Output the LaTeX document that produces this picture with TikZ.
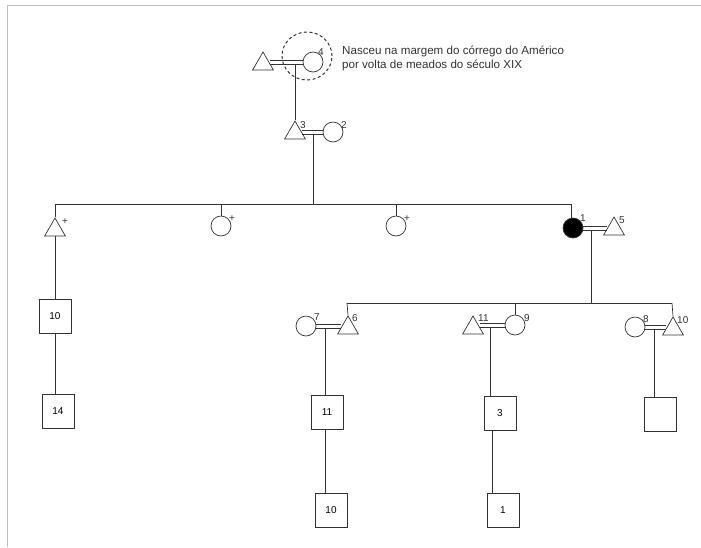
\documentclass[tikz,border=0pt]{standalone}
\usepackage{fontspec}
\setmainfont{Liberation Sans}
\usetikzlibrary{shapes.geometric,calc}
\definecolor{ink}{HTML}{333333}
\tikzset{
  ln/.style={draw=ink, line width=0.7pt},
  dl/.style={draw=ink, line width=0.6pt},
  tri/.style={regular polygon, regular polygon sides=3, draw=ink, line width=0.7pt, minimum size=24pt, inner sep=0pt},
  circ/.style={circle, draw=ink, line width=0.7pt, minimum size=20pt, inner sep=0pt},
  fcirc/.style={circ, fill=black},
  box/.style={rectangle, draw=ink, line width=0.8pt, minimum width=32pt, minimum height=34pt, inner sep=0pt, font=\fontsize{10}{11}\selectfont},
  lbl/.style={font=\fontsize{10}{11}\selectfont, inner sep=0pt, text=ink},
}
\newcommand\marline[2]{%
  \draw[dl] ([yshift=2.1pt]#1) -- ([yshift=2.1pt]#2);
  \draw[dl] ([yshift=-2.1pt]#1) -- ([yshift=-2.1pt]#2);}
\begin{document}
\begin{tikzpicture}[x=1pt,y=-1pt]
\useasboundingbox (0,0) rectangle (701,547);
\fill[white] (0,0) rectangle (701,547);
% frame
\draw[gray!50, line width=1pt] (7,547) -- (7,5) -- (701,5);

% generation 0
\node[tri] (t0) at (263,64) {};
\node[circ] (c4) at (313,62) {};
\coordinate (m0a) at (t0.east |- c4);
\marline{m0a}{c4.west}
\draw[ink, dashed, dash pattern=on 3pt off 2.5pt, line width=1pt] (307,56) ellipse [x radius=25pt, y radius=24pt];
\node[lbl, anchor=south west] (l4) at (318,56) {4};
\node[anchor=north west, align=left, inner sep=0pt, text=ink, font=\fontsize{11.6}{14}\selectfont] (note) at (342,46) {Nasceu na margem do córrego do Américo\\por volta de meados do século XIX};
\coordinate (j0) at (295,64.1);

% generation 1
\node[tri] (t3) at (295,133) {};
\node[circ] (c2) at (333,132) {};
\coordinate (m1a) at (t3.east |- c2);
\marline{m1a}{c2.west}
\node[lbl, anchor=south west] (l3) at (300,129) {3};
\node[lbl, anchor=south west] (l2) at (341,129) {2};
\draw[ln] (j0) -- (t3.north);
\coordinate (j1) at (313,134.1);
\coordinate (s1) at (313,204);
\draw[ln] (j1) -- (s1);

% siblings line
\coordinate (sL) at (55,204);
\coordinate (sR) at (571,204);
\draw[ln] (sL) -- (sR);

\node[tri] (tA) at (55,230) {};
\node[lbl, anchor=south west] (pA) at (62,225) {+};
\draw[ln] (sL) -- (tA.north);

\node[circ] (cA) at (221,226) {};
\node[lbl, anchor=south west] (pB) at (229,222) {+};
\draw[ln] (cA.north |- sL) -- (cA.north);

\node[circ] (cB) at (396,226) {};
\node[lbl, anchor=south west] (pC) at (404,222) {+};
\draw[ln] (cB.north |- sL) -- (cB.north);

\node[fcirc] (c1) at (573,228) {};
\node[tri] (t5) at (614,229) {};
\coordinate (m2b) at (c1.east -| t5.west);
\marline{c1.east}{m2b}
\draw[ln] (sR) -- (sR |- c1.north);
\node[lbl, anchor=south west] (l1) at (580,222) {1};
\node[lbl, anchor=south west] (l5) at (619,224) {5};
\coordinate (j2) at (591,230.1);
\coordinate (s2) at (591,303);
\draw[ln] (j2) -- (s2);

% left descendants
\node[box] (bL10) at (55,316) {10};
\node[box] (bL14) at (58,411) {14};
\draw[ln] (tA.south) -- (bL10.north);
\draw[ln] (bL10.south) -- (bL10.south |- bL14.north);

% second line
\coordinate (s2L) at (347,303);
\coordinate (s2M) at (515,303);
\coordinate (s2R) at (672,303);
\draw[ln] (s2L) -- (s2R);

% couple 7-6
\node[circ] (c7) at (306,326) {};
\node[tri] (t6) at (348,328) {};
\coordinate (m3b) at (c7.east -| t6.west);
\marline{c7.east}{m3b}
\draw[ln] (s2L) -- (t6.north);
\node[lbl, anchor=south west] (l7) at (314,321) {7};
\node[lbl, anchor=south west] (l6) at (352,322) {6};
\coordinate (j3) at (325,328.1);
\node[box] (b11) at (327,412) {11};
\node[box] (b10) at (331,510) {10};
\draw[ln] (j3) -- (j3 |- b11.north);
\draw[ln] (b11.south -| j3) -- (b10.north -| j3);

% couple 11-9
\node[tri] (t11) at (473,328) {};
\node[circ] (c9) at (515,325) {};
\coordinate (m4a) at (t11.east |- c9);
\marline{m4a}{c9.west}
\draw[ln] (s2M) -- (c9.north);
\node[lbl, anchor=south west] (l11) at (478,322) {11};
\node[lbl, anchor=south west] (l9) at (524,322) {9};
\coordinate (j4) at (490,327.1);
\node[box] (b3) at (500,413) {3};
\node[box] (b1) at (503,510) {1};
\draw[ln] (j4) -- (j4 |- b3.north);
\draw[ln] (b1.north -| 492,0) -- (b3.south -| 492,0);

% couple 8-10
\node[circ] (c8) at (635,327) {};
\node[tri] (t10) at (673,329) {};
\coordinate (m5b) at (c8.east -| t10.west);
\marline{c8.east}{m5b}
\draw[ln] (s2R) -- (t10.north);
\node[lbl, anchor=south west] (l8) at (643,323) {8};
\node[lbl, anchor=south west] (l10) at (677,324) {10};
\coordinate (j5) at (654,329.1);
\node[box] (bE) at (660,414) {};
\draw[ln] (j5) -- (j5 |- bE.north);
\end{tikzpicture}
\end{document}
